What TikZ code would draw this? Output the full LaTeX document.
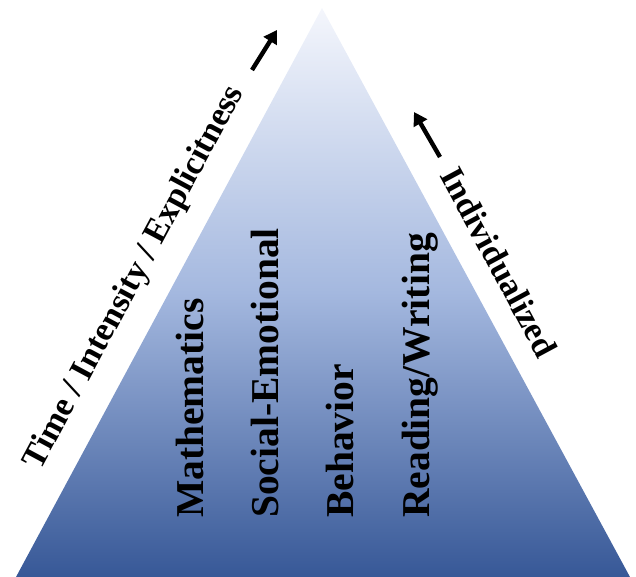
\documentclass[tikz,border=0pt]{standalone}
\usepackage{fontspec}
\setmainfont{Liberation Serif}
\usetikzlibrary{arrows.meta}
\definecolor{pyrtop}{HTML}{F4F6FC}
\definecolor{pyrmid}{HTML}{A4B8DF}
\definecolor{pyrbot}{HTML}{375897}
\begin{document}
\begin{tikzpicture}[x=1pt,y=-1pt,
  area/.style={rotate=90, anchor=base west, inner sep=0pt, font=\bfseries\fontsize{39.5}{41}\selectfont},
  side/.style={font=\bfseries\fontsize{34}{36}\selectfont},
  push/.style={line width=4.4pt, -{Triangle[length=13pt,width=15pt]}}]
\useasboundingbox (0,0) rectangle (636,577);
% pyramid
\coordinate (apex) at (322,8);
\coordinate (baseL) at (16,577);
\coordinate (baseR) at (630,577);
\shade[top color=pyrtop, bottom color=pyrbot, middle color=pyrmid] (apex)--(baseR)--(baseL)--cycle;
% areas
\node[area] (math) at (203,518) {Mathematics};
\node[area] (sel) at (278,518) {Social-Emotional};
\node[area] (beh) at (353,518) {Behavior};
\node[area] (read) at (429,518) {Reading/Writing};
% sides
\node[side, rotate=61.8] (time) at (135,278) {Time / Intensity / Explicitness};
\coordinate (upL0) at (252,70);
\coordinate (upL1) at (277,30);
\draw[push] (upL0)--(upL1);
\node[side, rotate=-61.7] (indiv) at (499,262) {Individualized};
\coordinate (upR0) at (440,157);
\coordinate (upR1) at (414,112);
\draw[push] (upR0)--(upR1);
\end{tikzpicture}
\end{document}
